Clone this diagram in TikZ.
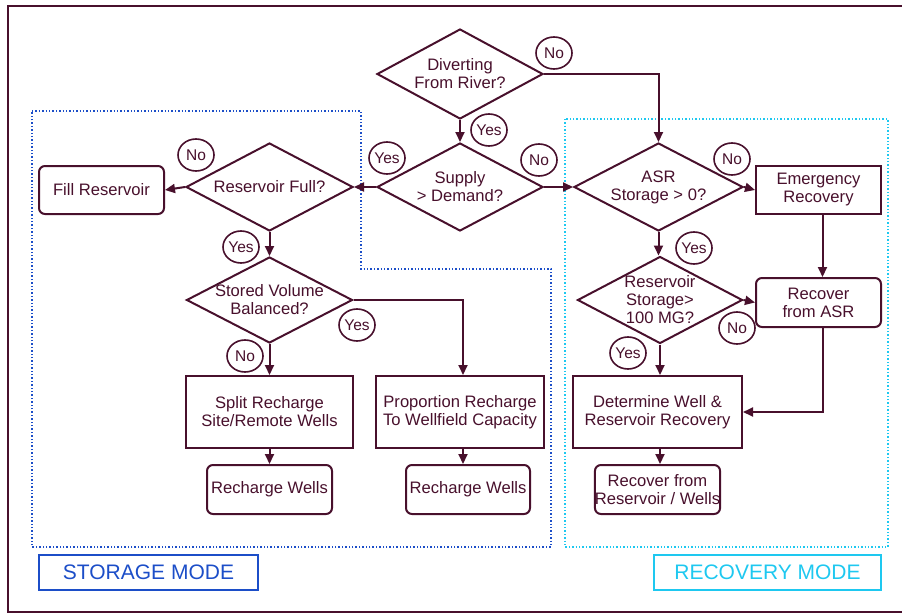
\documentclass[tikz,border=0pt]{standalone}
\usepackage{fontspec}
\setmainfont{Liberation Sans}
\usetikzlibrary{arrows.meta,shapes.geometric}
\definecolor{ink}{RGB}{72,16,44}
\definecolor{stblue}{RGB}{28,78,200}
\definecolor{rccyan}{RGB}{30,200,240}
\begin{document}
\begin{tikzpicture}[x=1pt,y=-1pt,
  every node/.style={text=ink, font=\fontsize{16.6}{18}\selectfont, align=center},
  line/.style={draw=ink, line width=2pt},
  arr/.style={line, -{Triangle[length=10pt,width=9pt]}},
  dia/.style={draw=ink, line width=2pt, diamond, inner sep=0pt},
  box/.style={draw=ink, line width=2pt, rectangle, inner sep=0pt},
  rbox/.style={box, rounded corners=6pt},
  lab/.style={draw=ink, line width=1.6pt, ellipse, minimum width=36pt, minimum height=32pt, inner sep=0pt, font=\fontsize{15.5}{17}\selectfont},
  mode/.style={line width=1.6pt, rectangle, minimum height=35pt, inner sep=0pt, font=\fontsize{21}{24}\selectfont},
]
\useasboundingbox (0,0) rectangle (902,613);
% outer frame
\draw[ink, line width=1.8pt] (903,6) -- (8,6) -- (8,612) -- (903,612);
% mode regions
\draw[stblue, dotted, line width=1.4pt] (32,111) -- (361,111) -- (361,269) -- (551,269) -- (551,547) -- (32,547) -- cycle;
\draw[rccyan, dotted, line width=1.4pt] (565,119) rectangle (888,547);
\node[mode, draw=stblue, text=stblue, minimum width=219pt] (sm) at (148.5,572.5) {STORAGE MODE};
\node[mode, draw=rccyan, text=rccyan, minimum width=227pt] (rm) at (767.5,572.5) {RECOVERY MODE};

% diamonds
\node[dia, minimum width=166pt, minimum height=90pt] (d1) at (460,74) {};
\node at (d1) {Diverting\\From River?};
\node[dia, minimum width=166pt, minimum height=88pt] (d2) at (460,187) {};
\node at (d2) {Supply\\> Demand?};
\node[dia, minimum width=167pt, minimum height=88pt] (d3) at (269.5,187) {};
\node at (d3) {Reservoir Full?};
\node[dia, minimum width=166pt, minimum height=86pt] (d4) at (269.5,300) {};
\node at (d4) {Stored Volume\\Balanced?};
\node[dia, minimum width=169pt, minimum height=88pt] (asr) at (658.5,187) {};
\node at (asr) {ASR\\Storage > 0?};
\node[dia, minimum width=165pt, minimum height=87pt] (dres) at (660,300) {};
\node at (dres) {Reservoir\\Storage>\\100 MG?};

% boxes
\node[rbox, minimum width=125pt, minimum height=48pt] (fill) at (101.5,190) {Fill Reservoir};
\node[box, minimum width=125pt, minimum height=48pt] (emg) at (818.5,190) {Emergency\\Recovery};
\node[rbox, minimum width=125pt, minimum height=49pt] (rasr) at (818.5,302.5) {Recover\\from ASR};
\node[box, minimum width=167pt, minimum height=72pt] (split) at (269.5,412) {Split Recharge\\Site/Remote Wells};
\node[box, minimum width=168pt, minimum height=72pt] (prop) at (460,412) {Proportion Recharge\\To Wellfield Capacity};
\node[box, minimum width=169pt, minimum height=72pt] (det) at (657.5,412) {Determine Well \&\\Reservoir Recovery};
\node[rbox, minimum width=125pt, minimum height=49pt] (rwl) at (269.5,489.5) {Recharge Wells};
\node[rbox, minimum width=124pt, minimum height=49pt] (rwr) at (468,489.5) {Recharge Wells};
\node[rbox, minimum width=123pt, minimum height=49pt] (rrw) at (657.5,489.5) {Recover from\\Reservoir / Wells};

% connectors
\draw[arr] (d1.south) -- (d2.north);
\draw[arr] (d1.east) -| (asr.north);
\draw[arr] (d2.west) -- (d3.east);
\draw[arr] (d2.east) -- (asr.west);
\draw[arr] (d3.west) -- (fill.east);
\draw[arr] (d3.south) -- (d4.north);
\draw[arr] (d4.east) -| ([xshift=3pt]prop.north);
\draw[arr] (d4.south) -- (split.north);
\draw[arr] (split.south) -- (rwl.north -| split.south);
\draw[arr] ([xshift=3pt]prop.south) -- ([xshift=3pt]prop.south |- rwr.north);
\draw[arr] (asr.east) -- (emg.west);
\draw[arr] (asr.south) -- (asr.south |- dres.north);
\draw[arr] ([xshift=4pt]emg.south) -- ([xshift=4pt]rasr.north);
\draw[arr] (dres.east) -- (rasr.west);
\draw[arr] ([xshift=4pt]rasr.south) |- (det.east);
\draw[arr] (dres.south) -- (dres.south |- det.north);
\draw[arr] (det.south -| dres.south) -- (rrw.north -| dres.south);

% yes/no labels
\node[lab] (l1) at (554,53) {No};
\node[lab] (l2) at (489,130) {Yes};
\node[lab] (l3) at (539,160) {No};
\node[lab] (l4) at (387,158) {Yes};
\node[lab] (l5) at (196,155) {No};
\node[lab] (l6) at (241,247) {Yes};
\node[lab] (l7) at (357,325) {Yes};
\node[lab] (l8) at (245,356) {No};
\node[lab] (l9) at (732,159) {No};
\node[lab] (l10) at (694,248) {Yes};
\node[lab] (l11) at (737,328) {No};
\node[lab] (l12) at (628,353) {Yes};
\end{tikzpicture}
\end{document}
